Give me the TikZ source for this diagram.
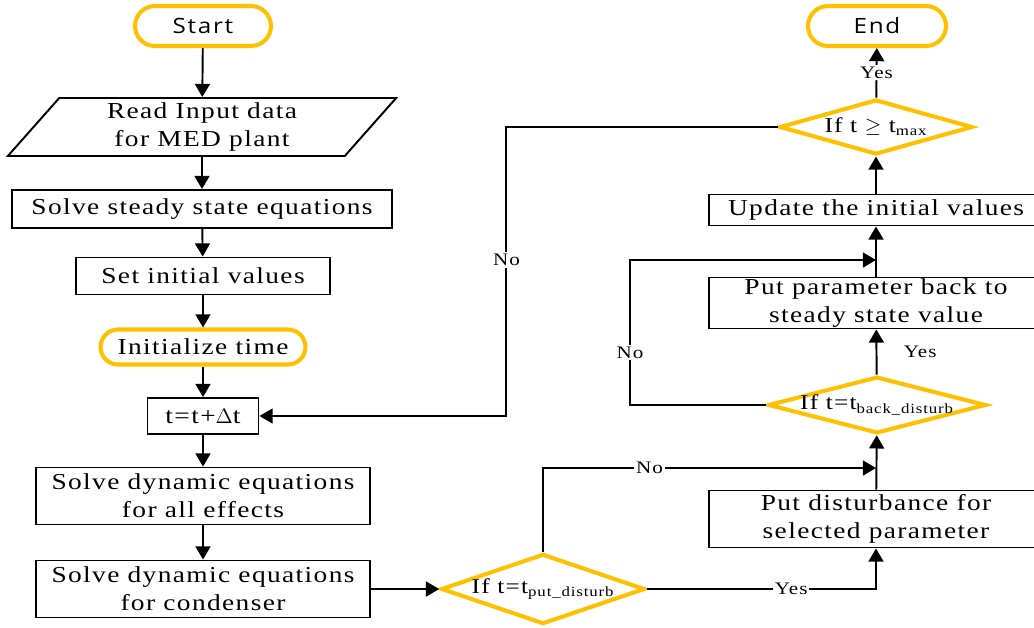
\documentclass[tikz,border=0pt]{standalone}
\usepackage{fontspec}
\setmainfont{Liberation Serif}[FakeStretch=1.2,LetterSpace=6]
\newfontfamily\termfont{Open Sans}[FakeStretch=1.15,LetterSpace=8]
\usetikzlibrary{arrows.meta,calc,shapes.geometric}
\definecolor{termorange}{HTML}{FFC000}

\begin{document}
\begin{tikzpicture}[
  x=0.02cm, y=-0.02cm,
  font=\fontsize{13}{16}\selectfont,
  box/.style={draw,line width=1.1pt,align=center,inner sep=0pt},
  term/.style={draw=termorange,line width=2.3pt,rounded corners=0.4cm,align=center,font=\termfont\fontsize{12}{14}\selectfont},
  test/.style={draw=termorange,line width=2.3pt,diamond,inner sep=0pt,align=center,font=\fontsize{12}{14}\selectfont},
  arrow/.style={-{Triangle[length=7.5pt,width=8.5pt]},line width=1.1pt},
  lbl/.style={fill=white,inner sep=1pt,font=\fontsize{10}{12}\selectfont}
]
\useasboundingbox (0,0) rectangle (1034,627);
\clip (0,0) rectangle (1034,627);

% left column
\node[term,minimum width=2.72cm,minimum height=0.8cm] (start) at (203,26) {Start};
\node[box,trapezium,trapezium left angle=55,trapezium right angle=125,trapezium stretches=true,
      minimum width=7.78cm,minimum height=1.16cm] (read) at (202,127) {Read Input data\\for MED plant};
\node[box,minimum width=7.6cm,minimum height=0.76cm] (steady) at (202,209) {Solve steady state equations};
\node[box,minimum width=5.08cm,minimum height=0.74cm] (init) at (203,276) {Set initial values};
\node[term,font=\fontsize{13}{16}\selectfont,rounded corners=0.35cm,minimum width=4.1cm,minimum height=0.7cm] (time) at (203,347) {Initialize time};
\node[box,minimum width=2.22cm,minimum height=0.72cm] (step) at (203,416) {t=t+$\Delta$t};
\node[box,minimum width=6.68cm,minimum height=1.14cm] (effects) at (203,496) {Solve dynamic equations\\for all effects};
\node[box,minimum width=6.68cm,minimum height=1.14cm] (condenser) at (203,589) {Solve dynamic equations\\for condenser};

% decisions and right column
\node[test,aspect=2.9,minimum width=3.98cm,minimum height=1.36cm] (putq) at (543,589) {If t=t\textsubscript{put\_disturb}};
\node[box,minimum width=6.68cm,minimum height=1.14cm] (disturb) at (876,519) {Put disturbance for\\selected parameter};
\node[test,aspect=3.6,inner xsep=-6pt,minimum width=4.36cm,minimum height=1.12cm] (backq) at (877,405) {If t=t\textsubscript{back\_disturb}};
\node[box,minimum width=6.68cm,minimum height=1.02cm] (back) at (876,303) {Put parameter back to\\steady state value};
\node[box,minimum width=6.68cm,minimum height=0.62cm] (update) at (876,210) {Update the initial values};
\node[test,aspect=3.5,minimum width=3.86cm,minimum height=1.1cm] (maxq) at (876,127) {If t $\geq$ t\textsubscript{max}};
\node[term,minimum width=2.76cm,minimum height=0.8cm] (end) at (877,26) {End};

\coordinate (jdist) at (876,468);
\coordinate (jback) at (876,260);

\draw[arrow] (start) -- (read);
\draw[arrow] (read) -- (steady);
\draw[arrow] (steady) -- (init);
\draw[arrow] (init) -- (time);
\draw[arrow] (time) -- (step);
\draw[arrow] (step) -- (effects);
\draw[arrow] (effects) -- (condenser);
\draw[arrow] (condenser) -- (putq);
\draw[arrow] (putq.east) -| node[lbl,pos=0.315] {Yes} (disturb.south);
\draw[arrow] (putq.north) |- node[lbl,pos=0.66] {No} (jdist);
\draw[arrow] (disturb) -- (backq);
\draw[arrow] (backq) -- node[lbl,right=14pt] {Yes} (back);
\draw[arrow] (backq.west) -| (630,260) node[lbl,pos=0.68] {No} -- (jback);
\draw[arrow] (back) -- (update);
\draw[arrow] (update) -- (maxq);
\draw[arrow] (maxq) -- node[lbl] {Yes} (end);
\draw[arrow] (maxq.west) -| ([xshift=4.94cm]step.east) node[lbl,pos=0.73] {No} -- (step.east);
\end{tikzpicture}
\end{document}
